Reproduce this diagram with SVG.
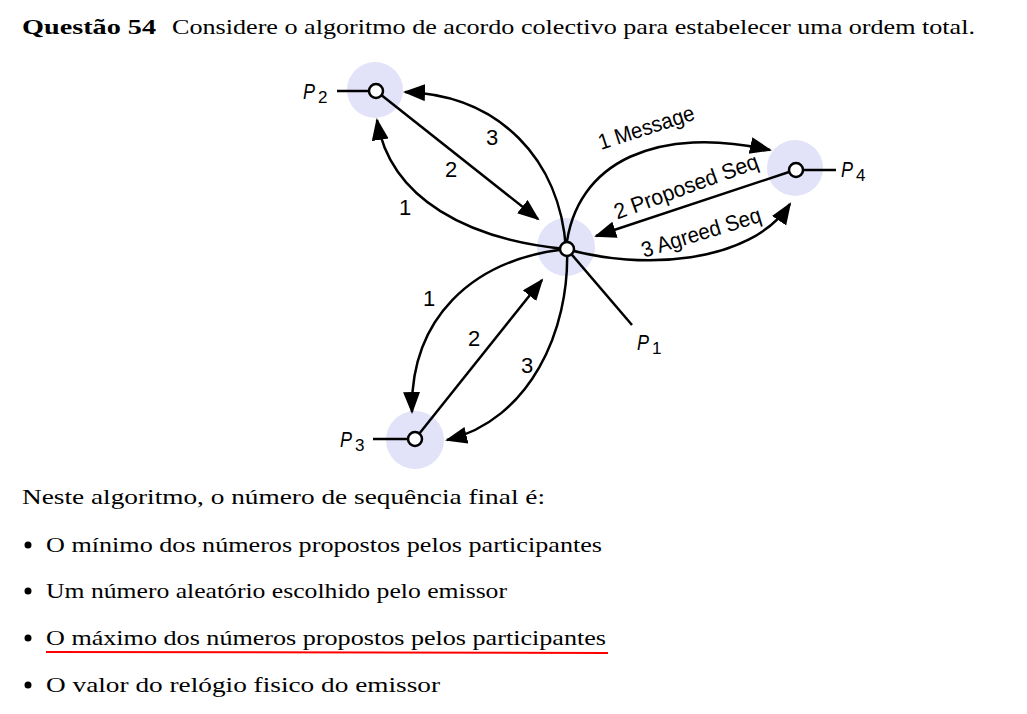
<svg xmlns="http://www.w3.org/2000/svg" width="1027" height="714" viewBox="0 0 1027 714">
<style>
.halo{fill:#e2e2f8}
.dot{fill:#fff;stroke:#000;stroke-width:2.5}
.ln{fill:none;stroke:#000;stroke-width:2.5}
.arr{fill:none;stroke:#000;stroke-width:2.5;marker-end:url(#ah)}
.lbl{font-family:"Liberation Sans",Arial,sans-serif;font-size:22px;fill:#000}
.pl{font-family:"Liberation Sans",Arial,sans-serif;font-size:22px;font-style:italic;fill:#000}
.sub{font-family:"Liberation Sans",Arial,sans-serif;font-size:17px;fill:#000}
.tx{font-family:"Liberation Serif","Times New Roman",serif;font-size:21px;fill:#000}
.b{font-weight:bold}
</style>
<defs>
<marker id="ah" markerUnits="userSpaceOnUse" markerWidth="24" markerHeight="18" refX="20" refY="8.5" orient="auto">
<path d="M0,0 L22,8.5 L0,17 z" fill="#000"/>
</marker>
</defs>
<rect width="1027" height="714" fill="#fff"/>
<g id="title">
<text class="tx b" x="22" y="34" textLength="134" lengthAdjust="spacingAndGlyphs">Questão 54</text>
<text class="tx" x="172" y="34" textLength="803" lengthAdjust="spacingAndGlyphs">Considere o algoritmo de acordo colectivo para estabelecer uma ordem total.</text>
</g>
<g id="halos">
<circle class="halo" cx="375" cy="90" r="28"/>
<circle class="halo" cx="566" cy="247" r="29"/>
<circle class="halo" cx="795" cy="168" r="28"/>
<circle class="halo" cx="415" cy="440" r="29"/>
</g>
<g id="connectors">
<path class="arr" d="M566,249 C560,160 500,95 405,92"/>
<path class="arr" d="M566,249 C470,240 390,200 377,120"/>
<path class="arr" d="M380,94 L538,219"/>
<path class="arr" d="M566,249 C575,160 660,125 770,150"/>
<path class="arr" d="M789,172 L596,236"/>
<path class="arr" d="M566,249 C640,270 750,265 790,204"/>
<path class="arr" d="M566,249 C470,260 410,320 412,412"/>
<path class="arr" d="M419,434 L542,280"/>
<path class="arr" d="M567,249 C570,330 530,420 447,440"/>
<path class="ln" d="M567,249 L632,325"/>
<path class="ln" d="M337,91 L368,91"/>
<path class="ln" d="M804,170 L836,170"/>
<path class="ln" d="M373,439 L407,439"/>
</g>
<g id="P2">
<circle class="dot" cx="376" cy="91" r="7"/>
<text class="pl" x="303" y="99" textLength="12" lengthAdjust="spacingAndGlyphs">P</text>
<text class="sub" x="318" y="103">2</text>
</g>
<g id="P1">
<circle class="dot" cx="567" cy="249" r="7"/>
<text class="pl" x="637" y="350" textLength="12" lengthAdjust="spacingAndGlyphs">P</text>
<text class="sub" x="652" y="354">1</text>
</g>
<g id="P4">
<circle class="dot" cx="796" cy="170" r="7"/>
<text class="pl" x="841" y="177" textLength="12" lengthAdjust="spacingAndGlyphs">P</text>
<text class="sub" x="856" y="181">4</text>
</g>
<g id="P3">
<circle class="dot" cx="415" cy="439" r="7"/>
<text class="pl" x="340" y="447" textLength="12" lengthAdjust="spacingAndGlyphs">P</text>
<text class="sub" x="355" y="451">3</text>
</g>
<g id="labels">
<text class="lbl" x="492" y="145" text-anchor="middle">3</text>
<text class="lbl" x="451" y="177" text-anchor="middle">2</text>
<text class="lbl" x="405" y="215" text-anchor="middle">1</text>
<text class="lbl" x="429" y="306" text-anchor="middle">1</text>
<text class="lbl" x="474" y="346" text-anchor="middle">2</text>
<text class="lbl" x="527" y="373" text-anchor="middle">3</text>
<text class="lbl" text-anchor="middle" transform="translate(646,127) rotate(-18)" y="8" textLength="100" lengthAdjust="spacingAndGlyphs">1 Message</text>
<text class="lbl" text-anchor="middle" transform="translate(686,186) rotate(-20)" y="8" textLength="152" lengthAdjust="spacingAndGlyphs">2 Proposed Seq</text>
<text class="lbl" text-anchor="middle" transform="translate(701,232) rotate(-17)" y="8" textLength="124" lengthAdjust="spacingAndGlyphs">3 Agreed Seq</text>
</g>
<g id="body">
<text class="tx" x="22" y="504" textLength="523" lengthAdjust="spacingAndGlyphs">Neste algoritmo, o número de sequência final é:</text>
<circle cx="28" cy="545" r="3.5" fill="#000"/>
<text class="tx" x="46" y="552" textLength="556" lengthAdjust="spacingAndGlyphs">O mínimo dos números propostos pelos participantes</text>
<circle cx="28" cy="591" r="3.5" fill="#000"/>
<text class="tx" x="46" y="598" textLength="461" lengthAdjust="spacingAndGlyphs">Um número aleatório escolhido pelo emissor</text>
<circle cx="28" cy="638" r="3.5" fill="#000"/>
<text class="tx" x="46" y="645" textLength="560" lengthAdjust="spacingAndGlyphs">O máximo dos números propostos pelos participantes</text>
<path d="M46,652 L608,653" stroke="#f00" stroke-width="2" fill="none"/>
<circle cx="28" cy="685" r="3.5" fill="#000"/>
<text class="tx" x="46" y="692" textLength="394" lengthAdjust="spacingAndGlyphs">O valor do relógio fisico do emissor</text>
</g>
</svg>
